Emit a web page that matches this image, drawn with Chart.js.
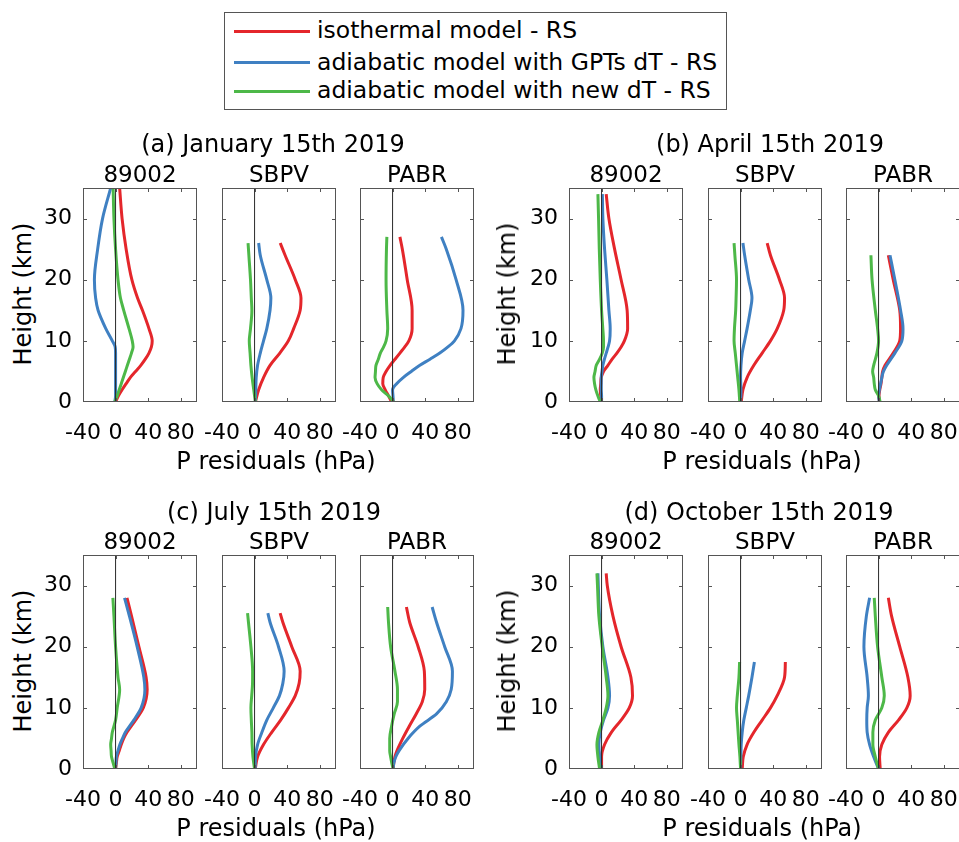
<!DOCTYPE html>
<html>
<head>
<meta charset="utf-8">
<script src="https://cdn.jsdelivr.net/npm/chart.js@4.4.0/dist/chart.umd.min.js"></script>
<style>
  html, body { margin: 0; padding: 0; background: #fff; overflow: hidden; width: 959px; height: 842px; }
  body { position: relative; font-family: "DejaVu Sans", sans-serif; color: #000; }
  .txt { position: absolute; white-space: nowrap; font-size: 24px; line-height: 1; transform: translate(-50%, -50%); }
  .st { font-size: 23px; }
  .ylab { transform: translate(-50%, -50%) rotate(-90deg); }
  .panel { position: absolute; }
  #legend { position: absolute; left: 224px; top: 12px; width: 503px; height: 98px; border: 1px solid #555; box-sizing: border-box; background: #fff; }
  .lg-line { position: absolute; left: 9px; width: 76px; height: 3px; }
  .lg-text { position: absolute; left: 92px; font-size: 23.5px; line-height: 1; white-space: nowrap; transform: translateY(-50%); }
</style>
</head>
<body>
<div id="legend"></div>
<script>
// Axis ticks and labels
const xTicks = [-40, 0, 40, 80];
const yTicks = [0, 10, 20, 30];
const monthTitles = ['(a) January 15th 2019', '(b) April 15th 2019', '(c) July 15th 2019', '(d) October 15th 2019'];
const stations = ['89002', 'SBPV', 'PABR'];
const seriesNames = ['isothermal model - RS', 'adiabatic model with GPTs dT - RS', 'adiabatic model with new dT - RS'];
const xLabel = 'P residuals (hPa)';
const yLabel = 'Height (km)';

// (a) January 15th 2019 — heights (km) and pressure residuals (hPa)
const h_jan_89002   = [0, 1, 2, 3, 4, 5, 6, 7, 8, 9, 10, 12, 15, 17, 20, 25, 30, 35];
const iso_jan_89002 = [0, 3.5, 8, 13, 18, 24.5, 31, 36.5, 41, 44, 45, 41, 33, 27, 20, 13, 8, 5];
const gpt_jan_89002 = [-1, 0, 0, 0, 0, 0, 0, 0, 0, -0.5, -4, -12, -21.5, -24.5, -26, -22, -16, -6];
const new_jan_89002 = [-1, 2, 4.5, 7, 9.5, 12, 14.5, 17, 19.5, 21.5, 20.5, 16.5, 10, 6, 3, 0, -2, -3];

const h_jan_SBPV   = [0, 2, 4, 6, 8, 10, 12, 15, 17, 20, 24, 26];
const iso_jan_SBPV = [1, 5, 11, 19, 31, 41.5, 48, 56, 57, 50, 37.5, 31.5];
const gpt_jan_SBPV = [1, 1.5, 2, 3.7, 7, 11, 15, 19, 20, 15, 7, 5];
const new_jan_SBPV = [1, -1, -3, -4.5, -5.5, -6.5, -5, -3.3, -4, -5, -7, -8];

const h_jan_PABR   = [0, 1, 2, 3, 4, 5, 6, 7, 8, 9, 10, 12, 15, 20, 25, 27];
const iso_jan_PABR = [-1, -5, -9, -12, -11.5, -8, -3, 3, 9, 15, 20, 24, 24, 18, 12, 9];
const gpt_jan_PABR = [1, 0.5, 0, 5, 13, 23, 33.5, 46, 58, 68, 76, 84, 86.5, 78, 66, 60];
const new_jan_PABR = [1.6, -5, -13.5, -19, -21.5, -21, -20.4, -17.5, -15, -11, -8, -6, -7, -8, -7.5, -7];

// (b) April 15th 2019
const h_apr_89002   = [0, 1, 2, 3, 4, 5, 6, 7, 8, 9, 10, 12, 15, 20, 25, 30, 34];
const iso_apr_89002 = [0, -1, -1.6, -1, -0.4, 2.4, 7.8, 13, 18.8, 24, 28, 32, 31.4, 24, 16, 9, 5.7];
const gpt_apr_89002 = [0, 0, -0.4, -0.4, -0.4, 0.5, 1.6, 3.5, 5.7, 8, 9.8, 10.6, 9, 6.5, 3.7, 1.6, 1];
const new_apr_89002 = [-1.6, -4.5, -7, -8.6, -9.4, -8, -6.5, -2.4, 0.8, 2.4, 2.4, 1.5, 0, -1.6, -2.8, -3.7, -4.5];

const h_apr_SBPV   = [0, 2, 4, 6, 8, 10, 12, 15, 17, 20, 24, 26];
const iso_apr_SBPV = [0.8, 2.9, 8, 16.3, 26.5, 36.7, 45, 53, 54, 47.8, 36.7, 32.7];
const gpt_apr_SBPV = [0, 0.5, 0, 0.5, 2, 5, 8, 12, 14, 10, 5, 2.9];
const new_apr_SBPV = [-1, -2, -3.5, -5, -6.5, -8, -7.5, -6, -5.5, -5, -7, -8];

const h_apr_PABR   = [0, 1, 2, 3, 4, 5, 6, 8, 10, 12, 15, 20, 24];
const iso_apr_PABR = [1, 0.5, 1.5, 3, 4, 5, 8, 18, 26, 27, 26, 18, 12];
const gpt_apr_PABR = [1, 0, 1, 2.5, 4, 6, 10, 20, 28.6, 30, 27, 20, 14];
const new_apr_PABR = [2, 0, -4, -5.3, -6, -7.3, -6, -2, 0, -1.2, -4, -8, -9.4];

// (c) July 15th 2019
const h_jul_89002   = [0, 1, 2, 3, 4, 5, 6, 8, 10, 13, 15, 20, 25, 28];
const iso_jul_89002 = [0, 1, 2, 4.5, 7, 10, 14, 24.5, 34, 38.8, 37.5, 28.6, 19.6, 14];
const gpt_jul_89002 = [0, 0.5, 1, 3, 5.3, 8.5, 12, 22.4, 31.4, 36, 34.7, 26.5, 17, 11];
const new_jul_89002 = [-1, -3, -5, -5.5, -6, -5, -4, 0, 2, 5, 3, 0, -2, -3.3];

const h_jul_SBPV   = [0, 2, 4, 6, 8, 10, 12, 14, 16, 20, 24, 25.5];
const iso_jul_SBPV = [0.8, 3.7, 11, 21, 32, 41.6, 50, 54.7, 56, 45.7, 34.7, 31.4];
const gpt_jul_SBPV = [0.8, 1.2, 3.7, 9, 15, 23, 30.6, 34.7, 36.3, 29.4, 19, 16.3];
const new_jul_SBPV = [0, -2, -3, -3.3, -4, -4.5, -3.5, -2.5, -2.4, -4.5, -7.5, -8.6];

const h_jul_PABR   = [0, 1, 2, 3, 5, 7, 9, 11, 13, 16, 20, 24, 26.5];
const iso_jul_PABR = [0.8, 1.5, 2.9, 5.5, 12.5, 20.5, 29, 36.5, 39.5, 39, 31.4, 21, 17];
const gpt_jul_PABR = [0.8, 1.6, 4, 8, 19, 33.5, 54, 66, 72, 73.5, 64, 54, 48.6];
const new_jul_PABR = [0.8, -1, -2.4, -3.5, -3.5, -1.2, 2, 6, 6, 2.9, -2.4, -5, -6];

// (d) October 15th 2019
const h_oct_89002   = [0, 2, 4, 6, 8, 10, 12, 15, 20, 25, 30, 32];
const iso_oct_89002 = [0, 0, 3.7, 12, 24, 34, 38, 36, 24, 14, 7, 5.7];
const gpt_oct_89002 = [-1.6, -2.5, -3.3, -1.6, 2.4, 7.8, 9.8, 7.8, 1.6, -2.4, -4, -4.5];
const new_oct_89002 = [-2.4, -4.5, -5.7, -3.3, 1.6, 5.7, 7.8, 5.7, 0.8, -3.3, -5, -5.7];

const h_oct_SBPV   = [0, 2, 4, 6, 8, 10, 12, 15, 17.5];
const iso_oct_SBPV = [2, 3.3, 8, 16.3, 26.5, 36.7, 45, 54, 55];
const gpt_oct_SBPV = [0, 0.4, 0.8, 2, 4, 7, 10, 14, 17];
const new_oct_SBPV = [0, -0.8, -2, -3, -4, -5, -4, -2, -1.2];

const h_oct_PABR   = [0, 2, 4, 6, 8, 10, 12, 15, 20, 25, 28];
const iso_oct_PABR = [2, 1.2, 4, 12, 24.5, 34.7, 38.8, 36, 26, 16, 12];
const gpt_oct_PABR = [0, -6, -11, -14, -14.5, -14, -12.5, -14, -18, -15, -11];
const new_oct_PABR = [0, -4, -7, -7, -4, 4, 7, 4, -1.2, -4, -5.3];

// Panel groups (one per date), each with three stations
const groups = [
  [[h_jan_89002, iso_jan_89002, gpt_jan_89002, new_jan_89002],
   [h_jan_SBPV, iso_jan_SBPV, gpt_jan_SBPV, new_jan_SBPV],
   [h_jan_PABR, iso_jan_PABR, gpt_jan_PABR, new_jan_PABR]],
  [[h_apr_89002, iso_apr_89002, gpt_apr_89002, new_apr_89002],
   [h_apr_SBPV, iso_apr_SBPV, gpt_apr_SBPV, new_apr_SBPV],
   [h_apr_PABR, iso_apr_PABR, gpt_apr_PABR, new_apr_PABR]],
  [[h_jul_89002, iso_jul_89002, gpt_jul_89002, new_jul_89002],
   [h_jul_SBPV, iso_jul_SBPV, gpt_jul_SBPV, new_jul_SBPV],
   [h_jul_PABR, iso_jul_PABR, gpt_jul_PABR, new_jul_PABR]],
  [[h_oct_89002, iso_oct_89002, gpt_oct_89002, new_oct_89002],
   [h_oct_SBPV, iso_oct_SBPV, gpt_oct_SBPV, new_oct_SBPV],
   [h_oct_PABR, iso_oct_PABR, gpt_oct_PABR, new_oct_PABR]]
];

// Layout (page pixels)
const COLORS = ['#e4262b', '#3f80c2', '#4db848'];
const FONT = '"DejaVu Sans", sans-serif';
const colLeft = [[83, 222, 360], [569, 708, 846]];
const rowTop = [188, 555];
const PW = 114, PH = 214;               // plot frame size
const PAD_L = 45, PAD_T = 10, PAD_R = 25, PAD_B = 45;
const titleX = [273, 770, 274, 759];
const titleY = [143.5, 511.5];
const subY = [173.5, 541];
const xLabelX = [276, 762];
const xLabelY = [460.5, 827.5];
const yLabelX = [22.5, 507];

function addText(str, x, y, cls) {
  const d = document.createElement('div');
  d.className = 'txt' + (cls ? ' ' + cls : '');
  d.textContent = str;
  d.style.left = x + 'px';
  d.style.top = y + 'px';
  document.body.appendChild(d);
}

// Frame box with inward tick marks on all four sides
const framePlugin = {
  id: 'frameBox',
  afterDraw(chart) {
    const { ctx, chartArea: a, scales: { x, y } } = chart;
    ctx.save();
    ctx.strokeStyle = '#555';
    ctx.lineWidth = 1;
    ctx.strokeRect(a.left + 0.5, a.top + 0.5, a.right - a.left - 1, a.bottom - a.top - 1);
    ctx.beginPath();
    xTicks.forEach(v => {
      const px = Math.round(x.getPixelForValue(v)) + 0.5;
      if (px <= a.left + 1 || px >= a.right - 1) return;
      ctx.moveTo(px, a.bottom); ctx.lineTo(px, a.bottom - 4);
      ctx.moveTo(px, a.top); ctx.lineTo(px, a.top + 4);
    });
    yTicks.forEach(v => {
      const py = Math.round(y.getPixelForValue(v)) + 0.5;
      if (py <= a.top + 1 || py >= a.bottom - 1) return;
      ctx.moveTo(a.left, py); ctx.lineTo(a.left + 4, py);
      ctx.moveTo(a.right, py); ctx.lineTo(a.right - 4, py);
    });
    ctx.stroke();
    ctx.restore();
  }
};

function makePanel(left, top, series, showY) {
  const [heights, iso, gpt, nw] = series;
  const wrap = document.createElement('div');
  wrap.className = 'panel';
  wrap.style.left = (left - PAD_L) + 'px';
  wrap.style.top = (top - PAD_T) + 'px';
  const cv = document.createElement('canvas');
  cv.width = PW + PAD_L + PAD_R;
  cv.height = PH + PAD_T + PAD_B;
  cv.style.width = cv.width + 'px';
  cv.style.height = cv.height + 'px';
  wrap.appendChild(cv);
  document.body.appendChild(wrap);

  const pts = vals => heights.map((h, i) => ({ x: vals[i], y: h }));
  const curve = (vals, k) => ({
    label: seriesNames[k], data: pts(vals), borderColor: COLORS[k], borderWidth: 3,
    pointRadius: 0, fill: false, cubicInterpolationMode: 'monotone', order: 3 - k
  });

  new Chart(cv, {
    type: 'line',
    data: {
      datasets: [
        curve(iso, 0), curve(gpt, 1), curve(nw, 2),
        { label: 'zero', data: [{ x: 0, y: 0 }, { x: 0, y: 35 }], borderColor: '#2a2a2a',
          borderWidth: 1, pointRadius: 0, fill: false, tension: 0, order: 0 }
      ]
    },
    options: {
      responsive: false,
      animation: false,
      indexAxis: 'y',
      layout: { autoPadding: false, padding: { top: PAD_T, right: PAD_R, left: 0, bottom: 0 } },
      plugins: { legend: { display: false }, tooltip: { enabled: false } },
      scales: {
        x: {
          type: 'linear', position: 'bottom', min: -40, max: 100,
          afterBuildTicks: s => { s.ticks = xTicks.map(v => ({ value: v })); },
          afterFit: s => { s.height = PAD_B; s.paddingLeft = 0; s.paddingRight = 0; },
          grid: { display: false, drawTicks: false },
          border: { display: false },
          ticks: { color: '#000', font: { family: FONT, size: 22 }, padding: 18, maxRotation: 0, autoSkip: false }
        },
        y: {
          type: 'linear', position: 'left', min: 0, max: 35, reverse: false,
          afterBuildTicks: s => { s.ticks = yTicks.map(v => ({ value: v })); },
          afterFit: s => { s.width = PAD_L; s.paddingTop = 0; s.paddingBottom = 0; },
          grid: { display: false, drawTicks: false },
          border: { display: false },
          ticks: { display: showY, color: '#000', font: { family: FONT, size: 22 }, padding: 11, autoSkip: false }
        }
      }
    },
    plugins: [framePlugin]
  });
}

groups.forEach((grp, g) => {
  const row = Math.floor(g / 2), col = g % 2;
  const top = rowTop[row];
  grp.forEach((series, s) => {
    const left = colLeft[col][s];
    makePanel(left, top, series, s === 0);
    addText(stations[s], left + PW / 2, subY[row], 'st');
  });
  addText(monthTitles[g], titleX[g], titleY[row]);
  addText(xLabel, xLabelX[col], xLabelY[row]);
  addText(yLabel, yLabelX[col], top + PH / 2 - 1, 'ylab');
});

// Legend
const legend = document.getElementById('legend');
const legendRowY = [18, 49.5, 78];
seriesNames.forEach((name, k) => {
  const ln = document.createElement('div');
  ln.className = 'lg-line';
  ln.style.top = (legendRowY[k] - 1.5) + 'px';
  ln.style.background = COLORS[k];
  legend.appendChild(ln);
  const t = document.createElement('div');
  t.className = 'lg-text';
  t.style.top = legendRowY[k] + 'px';
  t.textContent = name;
  legend.appendChild(t);
});
</script>
</body>
</html>
